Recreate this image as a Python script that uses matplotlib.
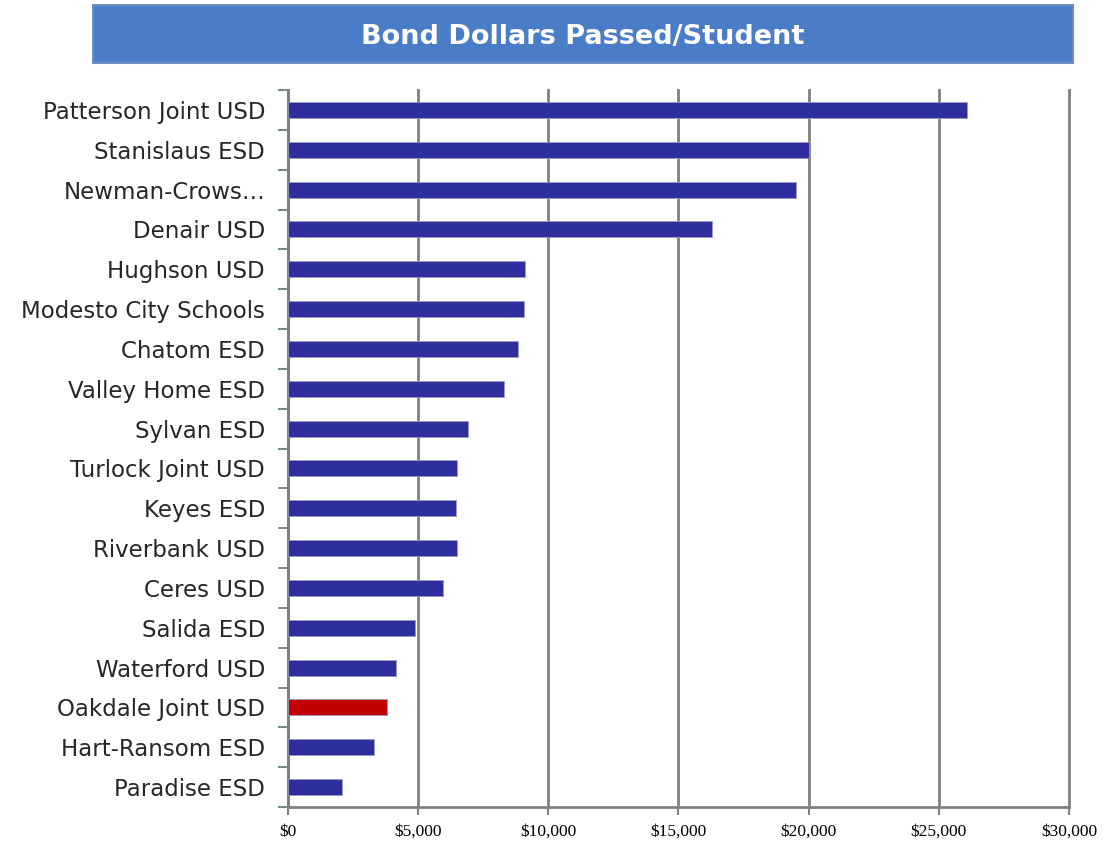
import matplotlib.pyplot as plt
import matplotlib.ticker as mticker
from matplotlib.patches import Rectangle

districts = ['Patterson Joint USD', 'Stanislaus ESD', 'Newman-Crows\u2026', 'Denair USD',
             'Hughson USD', 'Modesto City Schools', 'Chatom ESD', 'Valley Home ESD',
             'Sylvan ESD', 'Turlock Joint USD', 'Keyes ESD', 'Riverbank USD',
             'Ceres USD', 'Salida ESD', 'Waterford USD', 'Oakdale Joint USD',
             'Hart-Ransom ESD', 'Paradise ESD']
dollars = [26100, 20000, 19500, 16300, 9100, 9050, 8850, 8300, 6900, 6500,
           6450, 6500, 5950, 4880, 4150, 3800, 3300, 2070]
highlight = 'Oakdale Joint USD'

fig = plt.figure(figsize=(11.11, 8.43), dpi=100)
ax = fig.add_axes([0.2592, 0.0427, 0.7030, 0.8505])

pos = list(range(len(districts)))
colors = ['#c00000' if d == highlight else '#2e2e9e' for d in districts]
ax.barh(pos, dollars, height=0.4, color=colors, edgecolor='#9a9ab8', linewidth=0.6, zorder=3)

ax.set_ylim(len(districts) - 0.5, -0.5)
ax.set_xlim(0, 30000)
ax.set_yticks(pos)
ax.set_yticklabels(districts, fontsize=16.5, family='DejaVu Sans', color='#262626')
ax.tick_params(axis='y', length=0, pad=16.5)
ax.set_yticks([p + 0.5 for p in range(-1, len(districts))], minor=True)
ax.tick_params(axis='y', which='minor', length=7, width=1.5, color='#7a8a8a')

ax.xaxis.set_major_locator(mticker.MultipleLocator(5000))
ax.xaxis.set_major_formatter(mticker.FuncFormatter(lambda v, p: '${:,.0f}'.format(v)))
ax.tick_params(axis='x', length=6, width=1.5, color='#808080', labelsize=12.5, pad=6)
for lab in ax.get_xticklabels():
    lab.set_family('Liberation Serif')

ax.grid(axis='x', color='#808080', linewidth=2, zorder=0)
for gl in ax.get_xgridlines():
    gl.set_clip_on(False)
for s in ['top', 'right']:
    ax.spines[s].set_visible(False)
ax.spines['left'].set_color('#808080')
ax.spines['left'].set_linewidth(2)
ax.spines['bottom'].set_color('#808080')
ax.spines['bottom'].set_linewidth(2)

# title banner
fig.patches.append(Rectangle((93 / 1111, 1 - 63 / 843), 980 / 1111, 58 / 843,
                             transform=fig.transFigure, facecolor='#4a7cc8',
                             edgecolor='#6f8fc0', linewidth=1.5))
fig.text(0.5 * (93 + 1073) / 1111, 1 - 37 / 843, 'Bond Dollars Passed/Student',
         ha='center', va='center', color='white', fontsize=19.5, fontweight='bold',
         family='DejaVu Sans')

fig.savefig('out.png', dpi=100)
